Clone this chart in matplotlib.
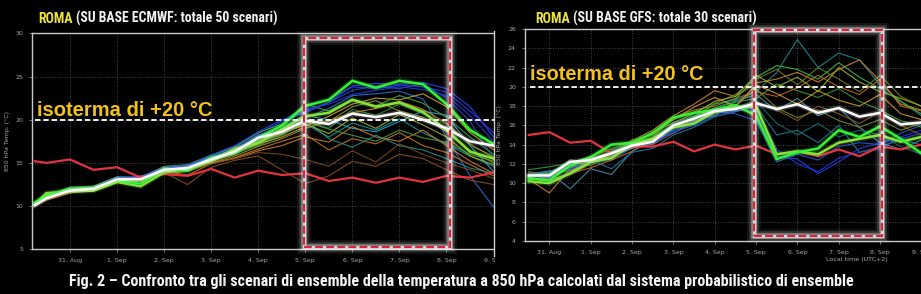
import numpy as np
import matplotlib
matplotlib.use('Agg')
import matplotlib.pyplot as plt
from matplotlib import font_manager
from matplotlib.patches import Rectangle
from matplotlib.lines import Line2D

# time in days from 31 Aug 00:00 local time
ec_days = [-0.75] + list(np.arange(-0.5, 9.51, 0.5))
gfs_days = list(np.arange(-0.5, 9.01, 0.5))
day_ticks = list(range(0, 10))
day_labels = ['31. Aug', '1. Sep', '2. Sep', '3. Sep', '4. Sep',
              '5. Sep', '6. Sep', '7. Sep', '8. Sep', '9. Sep']
isotherm = 20

# ECMWF (left) - mean, two highlighted runs, red reference line
ec_mean = [10.1, 10.9, 11.8, 12.0, 13.1, 13.1, 14.2, 14.4, 15.4, 16.3, 17.9,
           18.6, 19.9, 19.5, 20.7, 20.3, 20.8, 20.0, 19.0, 17.5, 17.0, 16.5]
ec_ctrl1 = [10.4, 11.2, 12.0, 12.1, 13.0, 12.6, 14.3, 14.1, 15.6, 16.2, 17.9,
            19.3, 21.6, 22.3, 24.5, 23.7, 24.5, 24.1, 21.8, 18.8, 17.2, 16.5]
ec_ctrl2 = [10.2, 11.5, 11.7, 11.8, 12.8, 12.3, 13.9, 14.3, 15.2, 16.6, 17.3,
            18.9, 20.4, 20.8, 22.3, 21.5, 22.0, 20.9, 18.8, 16.3, 15.5, 15.0]
ec_clim = [15.2, 15.0, 15.4, 14.2, 14.5, 13.3, 13.7, 13.5, 14.3, 13.3, 14.1,
           13.6, 13.8, 12.9, 13.3, 12.7, 13.3, 12.8, 13.5, 13.3, 13.9, 13.6]

e_m01 = [10.3, 11.2, 12.1, 12.0, 13.3, 13.2, 14.4, 14.6, 15.8, 16.9, 18.4, 19.8, 21.5, 22.4, 23.8, 23.6, 24.0, 23.8, 23.2, 21.0, 18.5, 16.0]
e_m02 = [10.0, 10.8, 11.9, 12.2, 13.0, 13.4, 14.1, 14.8, 15.6, 16.5, 18.0, 19.5, 21.0, 22.0, 23.4, 23.9, 23.6, 24.2, 22.5, 19.8, 15.5, 12.0]
e_m03 = [10.2, 11.0, 11.7, 12.3, 13.2, 13.0, 14.3, 14.5, 15.5, 16.8, 17.6, 19.0, 20.2, 21.3, 22.8, 23.0, 23.3, 22.4, 18.0, 13.5, 9.9, 9.0]
e_m04 = [10.4, 11.3, 12.0, 11.9, 13.2, 13.3, 14.0, 14.2, 15.3, 16.0, 17.2, 18.3, 19.5, 18.0, 19.6, 18.8, 20.1, 18.5, 17.2, 15.8, 14.6, 14.0]
e_m05 = [10.1, 10.9, 11.6, 11.8, 12.8, 12.9, 14.0, 14.3, 15.2, 16.1, 17.0, 18.2, 19.8, 19.0, 21.2, 20.5, 21.8, 20.7, 19.5, 17.0, 15.8, 15.2]
e_m06 = [10.0, 10.7, 11.5, 12.1, 12.9, 13.5, 14.0, 13.6, 14.9, 15.6, 16.6, 17.5, 18.3, 16.5, 17.8, 17.2, 18.5, 17.0, 16.2, 14.8, 13.5, 13.0]
e_m07 = [10.2, 11.1, 11.9, 12.2, 13.1, 13.2, 14.5, 14.1, 15.0, 15.8, 16.9, 17.8, 19.0, 19.8, 21.5, 22.2, 21.0, 20.3, 18.6, 16.4, 15.0, 14.5]
e_m08 = [10.3, 11.0, 11.8, 12.1, 13.0, 13.1, 13.9, 12.5, 14.5, 15.3, 15.8, 14.2, 12.6, 13.5, 15.2, 14.6, 16.0, 15.5, 14.2, 13.0, 12.5, 12.0]
e_m09 = [10.1, 11.0, 11.7, 12.0, 13.0, 13.2, 14.3, 14.2, 15.4, 16.2, 17.2, 18.0, 19.2, 20.4, 21.8, 22.5, 22.3, 23.0, 21.5, 18.5, 16.5, 15.5]
e_m10 = [10.2, 11.1, 11.8, 12.0, 13.0, 13.4, 14.2, 14.6, 15.5, 16.6, 18.2, 19.2, 20.5, 20.0, 19.0, 18.6, 19.8, 21.0, 20.5, 17.0, 14.0, 12.5]
e_m11 = [10.4, 11.2, 12.2, 12.3, 13.4, 13.3, 14.6, 14.8, 15.9, 16.8, 18.5, 19.5, 21.8, 21.0, 22.4, 21.6, 22.8, 21.9, 20.3, 18.0, 16.0, 15.2]
e_m12 = [10.0, 10.9, 11.6, 11.7, 12.7, 12.9, 13.8, 14.0, 15.0, 15.5, 16.4, 17.0, 18.0, 17.4, 19.2, 18.0, 17.5, 18.8, 17.0, 15.2, 13.8, 13.2]
e_m13 = [10.3, 11.0, 11.9, 12.0, 13.2, 13.0, 14.1, 14.4, 15.3, 16.4, 17.4, 18.8, 20.0, 17.8, 16.8, 18.2, 17.0, 16.5, 15.5, 14.4, 13.8, 13.5]
e_m14 = [10.2, 11.0, 11.8, 11.9, 13.1, 13.3, 14.2, 14.3, 15.2, 16.0, 17.5, 18.4, 19.5, 18.4, 20.2, 19.0, 20.6, 19.4, 18.0, 15.8, 14.8, 14.2]
e_m15 = [10.3, 11.1, 12.0, 12.1, 13.2, 13.3, 14.3, 14.7, 15.7, 16.6, 18.1, 19.3, 21.2, 21.8, 22.9, 23.4, 23.8, 23.5, 22.8, 20.5, 17.5, 15.0]
e_m16 = [10.1, 10.8, 11.6, 11.9, 12.9, 13.0, 13.9, 14.1, 14.9, 15.5, 16.2, 16.0, 15.4, 14.6, 16.4, 15.1, 17.2, 16.0, 15.0, 14.2, 13.2, 12.8]
e_m17 = [10.2, 11.1, 11.9, 12.1, 13.0, 13.2, 14.2, 14.5, 15.3, 16.3, 17.3, 18.5, 19.4, 19.9, 20.8, 21.3, 22.1, 21.2, 19.6, 17.2, 15.6, 14.9]
e_m18 = [10.2, 11.0, 11.8, 12.0, 13.1, 13.2, 14.1, 14.3, 15.4, 16.1, 17.6, 18.2, 19.8, 18.9, 18.2, 17.5, 18.8, 17.9, 17.4, 16.0, 15.2, 14.8]
e_m19 = [10.4, 11.2, 12.1, 12.2, 13.3, 13.4, 14.5, 14.7, 15.9, 17.0, 18.6, 20.0, 20.8, 22.0, 23.9, 24.2, 24.1, 24.3, 23.6, 21.5, 18.0, 15.5]
ec_members = [e_m01, e_m02, e_m03, e_m04, e_m05, e_m06, e_m07, e_m08, e_m09, e_m10,
              e_m11, e_m12, e_m13, e_m14, e_m15, e_m16, e_m17, e_m18, e_m19]
ec_colors = ['#2a3cf0', '#1f4be0', '#2c6fd6', '#1b9a9a', '#2f8a3a', '#c8761e', '#8c9b22',
             '#8a4f1e', '#d3a126', '#2aa6c8', '#3aa844', '#d07a2a', '#238f86', '#9fb52c',
             '#2236e8', '#7a4a22', '#c98a28', '#4a9a3a', '#2b46f5']

# GFS (right)
gfs_mean = [10.8, 10.8, 12.2, 12.4, 13.1, 13.9, 14.3, 16.0, 16.7, 17.5,
            17.7, 18.3, 17.7, 18.2, 17.3, 17.8, 16.9, 17.3, 16.1, 16.3]
gfs_ctrl1 = [10.5, 10.3, 11.8, 12.7, 14.0, 14.2, 15.2, 16.8, 17.3, 17.6,
             18.1, 17.0, 12.5, 13.2, 13.6, 15.5, 14.8, 15.9, 14.6, 13.1]
gfs_ctrl2 = [10.2, 10.0, 11.0, 12.2, 12.6, 14.0, 14.6, 15.8, 16.2, 17.4,
             17.8, 18.0, 13.0, 13.3, 13.0, 14.2, 14.6, 15.0, 14.3, 14.8]
gfs_clim = [15.0, 15.3, 14.2, 14.4, 13.1, 13.8, 13.8, 14.3, 13.3, 14.0,
            13.5, 13.9, 13.0, 13.3, 12.8, 13.5, 12.8, 13.8, 13.5, 14.0]

g_m01 = [11.0, 11.2, 12.0, 12.6, 13.2, 14.0, 14.8, 16.2, 17.0, 17.8, 18.6, 19.5, 21.5, 24.9, 22.0, 23.5, 22.8, 20.2, 18.5, 17.0]
g_m02 = [10.6, 10.2, 11.2, 12.0, 12.5, 13.6, 14.1, 15.4, 16.0, 17.0, 17.5, 17.8, 13.5, 12.0, 11.2, 12.6, 13.2, 13.5, 14.8, 15.5]
g_m03 = [10.8, 10.5, 11.6, 12.3, 12.9, 13.9, 14.3, 15.6, 16.4, 17.5, 17.2, 16.5, 12.2, 13.0, 12.4, 13.8, 14.2, 14.0, 15.2, 16.0]
g_m04 = [10.4, 9.0, 11.5, 12.8, 13.5, 14.4, 15.5, 17.0, 18.2, 19.6, 19.0, 20.4, 20.8, 21.5, 20.5, 21.8, 22.8, 20.6, 18.2, 17.6]
g_m05 = [11.2, 10.8, 12.3, 11.8, 13.0, 14.5, 15.0, 16.6, 17.4, 18.3, 19.2, 20.8, 21.8, 20.2, 22.0, 20.8, 19.5, 21.2, 19.0, 18.0]
g_m06 = [10.7, 11.2, 9.4, 11.5, 10.9, 13.3, 14.5, 15.2, 16.5, 17.0, 18.5, 19.2, 17.5, 18.8, 17.0, 17.8, 15.8, 14.2, 13.5, 14.5]
g_m07 = [11.4, 11.7, 12.1, 12.8, 13.6, 14.2, 15.0, 15.9, 16.8, 17.8, 18.4, 18.8, 20.3, 19.6, 18.9, 19.8, 18.5, 17.6, 16.5, 15.8]
g_m08 = [10.2, 10.0, 11.0, 11.6, 12.4, 13.3, 14.8, 16.8, 17.6, 18.0, 18.8, 19.5, 19.0, 19.9, 21.2, 20.0, 19.2, 20.8, 18.0, 17.5]
g_m09 = [11.1, 10.4, 10.9, 12.0, 13.0, 13.8, 14.0, 15.2, 16.2, 17.2, 17.8, 18.4, 17.6, 16.5, 18.0, 17.2, 16.2, 17.4, 16.0, 15.0]
g_m10 = [10.9, 11.3, 11.4, 12.4, 11.5, 13.2, 13.6, 15.0, 15.8, 16.9, 17.4, 18.0, 15.0, 15.5, 14.2, 16.0, 13.2, 13.8, 14.5, 14.0]
g_m11 = [10.3, 10.6, 11.8, 12.5, 13.3, 14.2, 15.2, 16.3, 17.2, 18.5, 19.0, 21.2, 20.0, 21.0, 19.5, 22.0, 20.5, 19.5, 18.8, 18.0]
g_m12 = [10.6, 10.9, 11.3, 12.2, 12.8, 13.6, 14.6, 15.8, 16.6, 17.6, 18.0, 19.8, 17.8, 16.8, 17.6, 16.5, 15.8, 16.6, 15.5, 16.2]
g_m13 = [11.0, 10.7, 11.9, 12.0, 13.4, 14.1, 14.4, 15.5, 16.4, 17.4, 17.9, 18.5, 16.2, 15.0, 16.2, 14.8, 15.5, 15.0, 13.8, 13.0]
g_m14 = [10.5, 10.2, 11.1, 12.6, 12.6, 13.9, 15.3, 16.6, 17.9, 18.9, 18.0, 20.2, 19.3, 18.2, 19.6, 18.6, 18.0, 19.2, 17.2, 16.6]
g_m15 = [10.8, 11.0, 12.4, 12.2, 13.1, 14.3, 14.7, 16.0, 16.9, 18.2, 18.7, 21.0, 22.2, 21.8, 20.8, 22.5, 21.0, 19.8, 18.5, 17.2]
g_m16 = [10.4, 10.6, 11.5, 12.1, 12.7, 13.7, 14.2, 15.3, 16.1, 17.3, 17.6, 17.4, 12.8, 12.5, 11.0, 12.2, 13.6, 14.2, 14.6, 15.2]
gfs_members = [g_m01, g_m02, g_m03, g_m04, g_m05, g_m06, g_m07, g_m08,
               g_m09, g_m10, g_m11, g_m12, g_m13, g_m14, g_m15, g_m16]
gfs_colors = ['#1c8c8c', '#1a35f0', '#2a55e0', '#d0842a', '#6f7f20', '#4a8fb0', '#3a9a3a', '#c06a22',
              '#8a5a25', '#1f7aa0', '#9ab52a', '#7a8a2a', '#17706e', '#d49a30', '#44b844', '#2240e6']

# highlighted period (days, temperature)
ec_box = (4.97, 8.07, 5.3, 29.5)
gfs_box = (4.95, 8.04, 4.55, 25.9)

# ---------------------------------------------------------------
W, H = 921, 294
def fx(px):
    return px / W
def fy(py):
    return 1 - py / H

names = {f.name for f in font_manager.fontManager.ttflist}
cond = 'DejaVu Sans'
for cand in ['Liberation Sans Narrow', 'Roboto Condensed', 'Open Sans Condensed', 'Noto Sans Condensed']:
    if cand in names:
        cond = cand
        break
cond_family = [cond, 'DejaVu Sans']

fig = plt.figure(figsize=(9.21, 2.94), dpi=100, facecolor='black')

ax1 = fig.add_axes([fx(32), fy(249.3), (540 - 32) / W, (249.3 - 33.3) / H])
ax2 = fig.add_axes([fx(525), fy(241), (940 - 525) / W, (241 - 29) / H])
ax2.set_zorder(2)

# right panel covers the end of the left one
fig.add_artist(Rectangle((fx(494.5), 0), 1 - fx(494.5), 1, transform=fig.transFigure,
                         facecolor='black', edgecolor='none', zorder=1))
fig.add_artist(Line2D([fx(494), fx(494)], [fy(31), fy(256)], transform=fig.transFigure,
                      color='#d0d0d0', lw=1, zorder=1.5))

grey = '#a8a8a8'
red = '#e3343e'


def style(ax, yticks):
    ax.set_facecolor('black')
    for s in ax.spines.values():
        s.set_color('#c8c8c8')
        s.set_linewidth(1)
    ax.set_xticks(day_ticks)
    ax.set_xticklabels(day_labels)
    ax.set_yticks(yticks)
    ax.tick_params(colors='#888888', labelcolor=grey, labelsize=4.5, length=2.5, width=0.6, pad=4)
    ax.grid(True, color='#5a5a5a', ls=(0, (1, 2)), lw=0.6)
    ax.set_ylabel('850 hPa Temp. (°C)', fontsize=4.5, color=grey, labelpad=4)


def draw_runs(ax, days, members, colors, clim, ctrl1, ctrl2, mean):
    for m, c in zip(members, colors):
        ax.plot(days, m, color=c, lw=0.8, alpha=0.9, zorder=2)
    ax.plot(days, clim, color=red, lw=1.6, zorder=3)
    for run, c in [(ctrl2, '#86e23c'), (ctrl1, '#36f036')]:
        ax.plot(days, run, color=c, lw=4, alpha=0.2, zorder=4)
        ax.plot(days, run, color=c, lw=1.8, zorder=4)
    ax.plot(days, mean, color='white', lw=4, alpha=0.2, zorder=5)
    ax.plot(days, mean, color='white', lw=1.8, zorder=5)


def glow_box(ax, box):
    x0, x1, y0, y1 = box
    for lw, a in [(10, 0.08), (7, 0.14), (4.5, 0.3), (2.5, 0.7)]:
        ax.add_patch(Rectangle((x0, y0), x1 - x0, y1 - y0, fill=False, edgecolor='white',
                               lw=lw, alpha=a, zorder=8, clip_on=False))
    ax.add_patch(Rectangle((x0, y0), x1 - x0, y1 - y0, fill=False, edgecolor='#d8243a',
                           lw=1.6, linestyle=(0, (3.5, 1.5)), zorder=9, clip_on=False))


style(ax1, range(5, 31, 5))
ax1.set_xlim(-0.807, 9.987)
ax1.set_ylim(5, 30)
draw_runs(ax1, ec_days, ec_members, ec_colors, ec_clim, ec_ctrl1, ec_ctrl2, ec_mean)
ax1.axhline(isotherm, xmin=0.006, color='white', lw=1.3, ls=(0, (3, 1.6)), zorder=7)
glow_box(ax1, ec_box)

style(ax2, range(4, 27, 2))
ax2.set_xlim(-0.59, 9.45)
ax2.set_ylim(4, 26)
draw_runs(ax2, gfs_days, gfs_members, gfs_colors, gfs_clim, gfs_ctrl1, gfs_ctrl2, gfs_mean)
ax2.axhline(isotherm, xmin=0.012, color='white', lw=1.3, ls=(0, (3, 1.6)), zorder=7)
glow_box(ax2, gfs_box)

fig.text(fx(857), fy(260), 'Local time (UTC+2)', fontsize=4.6, color=grey,
         ha='center', va='center', zorder=4)

# texts: size fitted to the width they take in the picture
r = fig.canvas.get_renderer()


def fit_row(texts, x0, width, gap=0):
    w = sum(t.get_window_extent(r).width for t in texts) + gap * (len(texts) - 1)
    k = (width - gap * (len(texts) - 1)) / (w - gap * (len(texts) - 1))
    x = x0
    for t in texts:
        t.set_fontsize(t.get_fontsize() * k)
        t.set_x(fx(x))
        x += t.get_window_extent(r).width + gap


iso_style = dict(color='#f3c21a', fontsize=14, fontweight='bold', family=['Liberation Sans', 'DejaVu Sans'],
                 va='baseline', zorder=10)
t = fig.text(fx(37), fy(116), 'isoterma di +20 °C', **iso_style)
fit_row([t], 37, 175)
t = fig.text(fx(530), fy(79.5), 'isoterma di +20 °C', **iso_style)
fit_row([t], 530, 173)

title_style = dict(fontsize=13, fontweight='bold', family=cond_family, fontstretch='condensed',
                   va='baseline', zorder=10)
for x0, width, label in [(38, 239, '(SU BASE ECMWF: totale 50 scenari)'),
                         (535, 220, '(SU BASE GFS: totale 30 scenari)')]:
    a = fig.text(0, fy(23), 'ROMA', color='#ece43c', **title_style)
    b = fig.text(0, fy(23), label, color='#f2f2f2', **title_style)
    fit_row([a, b], x0, width, gap=3)

cap = fig.text(fx(69), fy(286), 'Fig. 2 \u2013 Confronto tra gli scenari di ensemble della temperatura a 850 hPa '
               'calcolati dal sistema probabilistico di ensemble', color='#f4f4f4', fontsize=13,
               fontweight='bold', family=cond_family, fontstretch='condensed', va='baseline', zorder=10)
fit_row([cap], 69, 783)

fig.savefig('out.png', dpi=100, facecolor='black')
